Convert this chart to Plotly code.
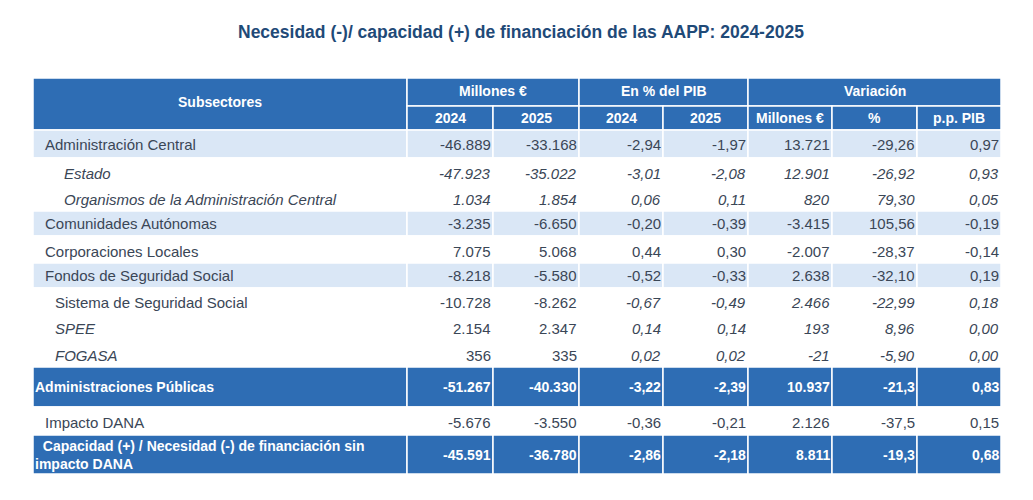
import plotly.graph_objects as go

# Table content (values as shown in the reference)
subsectors = [
    "Administración Central",
    "Estado",
    "Organismos de la Administración Central",
    "Comunidades Autónomas",
    "Corporaciones Locales",
    "Fondos de Seguridad Social",
    "Sistema de Seguridad Social",
    "SPEE",
    "FOGASA",
    "Administraciones Públicas",
    "Impacto DANA",
    "Capacidad (+) / Necesidad (-) de financiación sin<br>impacto DANA",
]
mill_2024 = [-46889, -47923, 1034, -3235, 7075, -8218, -10728, 2154, 356, -51267, -5676, -45591]
mill_2025 = [-33168, -35022, 1854, -6650, 5068, -5580, -8262, 2347, 335, -40330, -3550, -36780]
pib_2024 = [-2.94, -3.01, 0.06, -0.20, 0.44, -0.52, -0.67, 0.14, 0.02, -3.22, -0.36, -2.86]
pib_2025 = [-1.97, -2.08, 0.11, -0.39, 0.30, -0.33, -0.49, 0.14, 0.02, -2.39, -0.21, -2.18]
var_mill = [13721, 12901, 820, -3415, -2007, 2638, 2466, 193, -21, 10937, 2126, 8811]
var_pct = [-29.26, -26.92, 79.30, 105.56, -28.37, -32.10, -22.99, 8.96, -5.90, -21.3, -37.5, -19.3]
var_pct_decimals = [2, 2, 2, 2, 2, 2, 2, 2, 2, 1, 1, 1]
var_pp = [0.97, 0.93, 0.05, -0.19, -0.14, 0.19, 0.18, 0.00, 0.00, 0.83, 0.15, 0.68]

title = "Necesidad (-)/ capacidad (+) de financiación de las AAPP: 2024-2025"
group_headers = ["Millones €", "En % del PIB", "Variación"]
sub_headers = ["2024", "2025", "2024", "2025", "Millones €", "%", "p.p. PIB"]

# Layout of the table in pixels
col_edges = [33, 407, 493, 579, 663, 748, 832, 917, 1001]
head_edges = [78, 106, 130]
row_edges = [130, 158, 185, 211, 236, 263, 288, 314, 340, 367, 407, 435, 474]
# row style: main, sub (italic indent), sys, sysi, total
row_kind = ["main", "sub", "sub", "main", "main", "main", "sys", "sysi", "sysi", "total", "main", "total"]
shaded = [0, 3, 5]

DARK = "#2E6DB4"
LIGHT = "#DAE7F6"
TXT = "#3A4656"
FONT = "Liberation Sans, Arial, sans-serif"


def fmt_int(v):
    return f"{v:,}".replace(",", ".")


def fmt_dec(v, d=2):
    return f"{v:.{d}f}".replace(".", ",")


shapes = []
annotations = []


def cell(x0, x1, y0, y1, color):
    shapes.append(dict(type="rect", xref="x", yref="y", x0=x0, x1=x1, y0=y0, y1=y1,
                       fillcolor=color, line=dict(color="white", width=1.5), layer="below"))


def text(x, y, s, anchor="right", color=TXT, size=15, bold=False, italic=False):
    annotations.append(dict(x=x, y=y, xref="x", yref="y", text=s, showarrow=False,
                            xanchor=anchor, yanchor="middle", align="left",
                            font=dict(family=FONT, size=size, color=color,
                                      weight="bold" if bold else "normal",
                                      style="italic" if italic else "normal")))


# title
text(521, 32, title, anchor="center", color="#1F4A78", size=17.5, bold=True)

# header
cell(col_edges[0], col_edges[1], head_edges[0], head_edges[2], DARK)
text((col_edges[0] + col_edges[1]) / 2, 102, "Subsectores", anchor="center", color="white", size=14, bold=True)
spans = [(1, 3), (3, 5), (5, 8)]
for (a, b), h in zip(spans, group_headers):
    cell(col_edges[a], col_edges[b], head_edges[0], head_edges[1], DARK)
    text((col_edges[a] + col_edges[b]) / 2, 91, h, anchor="center", color="white", size=14, bold=True)
for i, h in enumerate(sub_headers):
    x0, x1 = col_edges[i + 1], col_edges[i + 2]
    cell(x0, x1, head_edges[1], head_edges[2], DARK)
    text((x0 + x1) / 2, 118, h, anchor="center", color="white", size=14, bold=True)

# body
for r, label in enumerate(subsectors):
    y0, y1 = row_edges[r], row_edges[r + 1]
    kind = row_kind[r]
    if kind == "total":
        bg = DARK
    elif r in shaded:
        bg = LIGHT
    else:
        bg = "white"
    for c in range(8):
        cell(col_edges[c], col_edges[c + 1], y0, y1, bg)

    ym = (y0 + y1) / 2 + (0 if r in shaded or kind == "total" else 1.5)
    col = "white" if kind == "total" else TXT
    bold = kind == "total"
    indent = {"main": 10, "sub": 29, "sys": 20, "sysi": 20, "total": 0}[kind]
    lab_italic = kind in ("sub", "sysi")
    lab = label
    if r == len(subsectors) - 1:
        lab = "\u00a0\u00a0" + label
    text(col_edges[0] + indent, ym, lab, anchor="left", color=col, bold=bold,
         italic=lab_italic, size=14 if bold else 15)

    vals = [fmt_int(mill_2024[r]), fmt_int(mill_2025[r]), fmt_dec(pib_2024[r]), fmt_dec(pib_2025[r]),
            fmt_int(var_mill[r]), fmt_dec(var_pct[r], var_pct_decimals[r]), fmt_dec(var_pp[r])]
    for c, v in enumerate(vals):
        if kind == "sub":
            it = True
        elif kind in ("sys", "sysi"):
            it = c >= 2
        else:
            it = False
        text(col_edges[c + 2], ym, v, anchor="right", color=col, bold=bold, italic=it,
             size=14 if bold else 15)

fig = go.Figure()
fig.update_layout(
    width=1033, height=500,
    margin=dict(l=0, r=0, t=0, b=0),
    paper_bgcolor="white", plot_bgcolor="white",
    xaxis=dict(range=[0, 1033], visible=False, fixedrange=True),
    yaxis=dict(range=[500, 0], visible=False, fixedrange=True),
    shapes=shapes, annotations=annotations, showlegend=False,
)
fig.write_html("out.html", config={"displayModeBar": False},
               post_script="document.body.style.margin='0';")
